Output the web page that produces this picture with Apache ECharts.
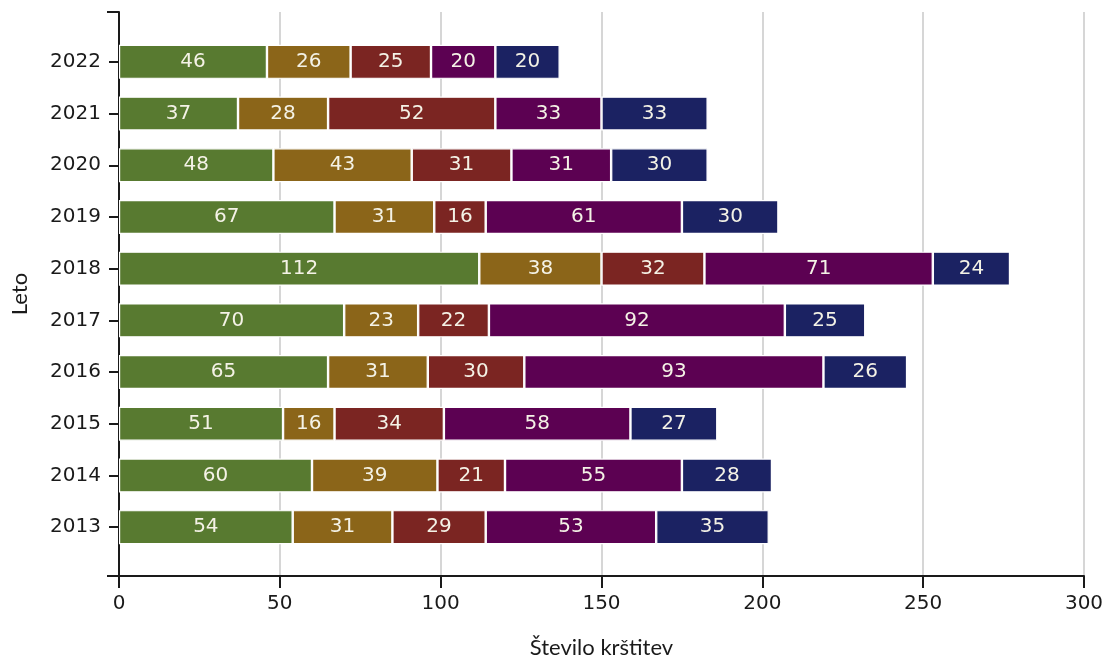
<!DOCTYPE html>
<html>
<head>
<meta charset="utf-8">
<script src="https://cdn.jsdelivr.net/npm/echarts@6/dist/echarts.min.js"></script>
<style>html,body{margin:0;padding:0;background:#fff}#c{width:1110px;height:664px}</style>
</head>
<body>
<div id="c"></div>
<script>
const years = ['2013','2014','2015','2016','2017','2018','2019','2020','2021','2022'];
const seriesA = [54, 60, 51, 65, 70, 112, 67, 48, 37, 46];
const seriesB = [31, 39, 16, 31, 23, 38, 31, 43, 28, 26];
const seriesC = [29, 21, 34, 30, 22, 32, 16, 31, 52, 25];
const seriesD = [53, 55, 58, 93, 92, 71, 61, 31, 33, 20];
const seriesE = [35, 28, 27, 26, 25, 24, 30, 30, 33, 20];
const colors = ['#587a30', '#8b6519', '#7b2522', '#5c0152', '#1b2262'];
const xTicks = [0, 50, 100, 150, 200, 250, 300];

const font = 'DejaVu Sans';
const chart = echarts.init(document.getElementById('c'));
const mk = (name, data, i) => ({
  name, type: 'bar', stack: 'total', data,
  xAxisIndex: 0, yAxisIndex: 0, barWidth: 34,
  itemStyle: { color: colors[i], borderColor: '#ffffff', borderWidth: 1.2 },
  label: { show: true, position: 'inside', color: '#f4f2e6', fontFamily: font, fontSize: 20 }
});
chart.setOption({
  animation: false,
  grid: [
    { left: 119, right: 26, top: 36, bottom: 111 },
    { left: 119, right: 26, top: 12, bottom: 87 }
  ],
  xAxis: [
    { gridIndex: 0, type: 'value', min: xTicks[0], max: xTicks[xTicks.length-1], interval: 50, show: false },
    { gridIndex: 1, type: 'value', min: xTicks[0], max: xTicks[xTicks.length-1], interval: 50,
      axisLine: { show: true, lineStyle: { color: '#1a1a1a', width: 2 } },
      axisTick: { show: true, length: 12, lineStyle: { color: '#1a1a1a', width: 2 } },
      axisLabel: { color: '#1a1a1a', fontFamily: font, fontSize: 20, margin: 18 },
      splitLine: { show: true, lineStyle: { color: '#d6d6d6', width: 2 } },
      name: 'Število krštitev', nameLocation: 'middle', nameGap: 61,
      nameTextStyle: { color: '#1a1a1a', fontFamily: 'Lato', fontSize: 22 }
    }
  ],
  yAxis: [
    { gridIndex: 0, type: 'category', data: years,
      axisLine: { show: false },
      axisTick: { show: true, alignWithLabel: true, length: 10, lineStyle: { color: '#1a1a1a', width: 2 } },
      axisLabel: { color: '#1a1a1a', fontFamily: font, fontSize: 20, margin: 18 }
    },
    { gridIndex: 1, type: 'value', min: 0, max: 1, interval: 1,
      axisLine: { show: true, lineStyle: { color: '#1a1a1a', width: 2 } },
      axisTick: { show: true, length: 12, lineStyle: { color: '#1a1a1a', width: 2 } },
      axisLabel: { show: false }, splitLine: { show: false },
      name: 'Leto', nameLocation: 'middle', nameGap: 88,
      nameTextStyle: { color: '#1a1a1a', fontFamily: 'Lato', fontSize: 22 }
    }
  ],
  series: [
    mk('A', seriesA, 0), mk('B', seriesB, 1), mk('C', seriesC, 2), mk('D', seriesD, 3), mk('E', seriesE, 4)
  ]
});
</script>
</body>
</html>
